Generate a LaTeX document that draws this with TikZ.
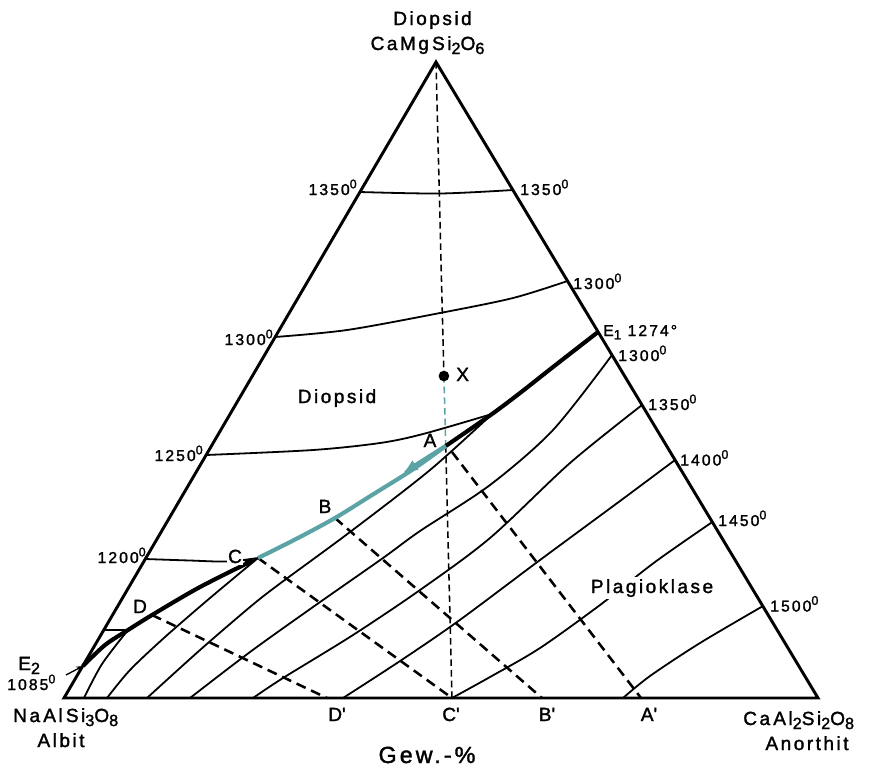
\documentclass[tikz,border=0pt]{standalone}
\usepackage{fontspec}
\setmainfont{Liberation Sans}[LetterSpace=13, FakeBold=1.6]
\usetikzlibrary{arrows.meta}
\definecolor{tealc}{RGB}{92,163,166}
\newcommand\lsub[1]{\raisebox{-0.4ex}{\scalebox{0.85}{#1}}}
\newcommand\supz{\raisebox{0.8ex}{\scalebox{0.8}{0}}}
\begin{document}
\begin{tikzpicture}[x=0.75pt,y=-0.75pt,
  edge/.style={line width=2.2pt, line join=miter},
  iso/.style={line width=1.35pt},
  cot/.style={line width=3.1pt},
  tie/.style={line width=1.9pt, dash pattern=on 7.5pt off 4.5pt},
  vert/.style={line width=1.15pt, dash pattern=on 5pt off 3pt},
  tealline/.style={line width=3.1pt, draw=tealc},
  small/.style={font=\fontsize{11.8}{13}\selectfont, inner sep=0pt},
  big/.style={font=\fontsize{14.3}{16}\selectfont, inner sep=0pt},
  huge/.style={font=\fontsize{17.5}{20}\selectfont, inner sep=0pt},
]
\useasboundingbox (0,0) rectangle (887,769);
% main points
\coordinate (T) at (436,62);
\coordinate (L) at (64,698);
\coordinate (R) at (818,698);
\coordinate (Cq) at (452,698);
\coordinate (Dq) at (327,698);
\coordinate (Bq) at (542,698);
\coordinate (Aq) at (641,698);
\coordinate (X) at (443.9,376);
\coordinate (A) at (445.7,446);
\coordinate (Am) at (403,473);
\coordinate (At) at (452,452);
\coordinate (J) at (492,414);
\coordinate (E1) at (598,332);
\coordinate (B) at (335,518);
\coordinate (C) at (258,558);
\coordinate (D) at (152,615);
\coordinate (K) at (128,630);
\coordinate (L1150) at (104,630);
\coordinate (E2) at (83,666);
\coordinate (E2t) at (66,675);

% triangle
\draw[edge] (T) -- (L) -- (R) -- cycle;

% isotherms, diopside field
\draw[iso] plot[smooth] coordinates {(360,192) (440,193.5) (513,190)};
\draw[iso] plot[smooth] coordinates {(275,337) (347,330) (440,313) (513,298) (567.5,281)};
\draw[iso] plot[smooth] coordinates {(206,455) (313,450) (380,443) (423,434) (492,414)};
\draw[iso] plot[smooth] coordinates {(145.5,559) (190,560.5) (227,561.5) (258,558)};
\draw[iso] (L1150) -- (K);

% isotherms, plagioclase field
\draw[iso] plot[smooth] coordinates {(612,355) (553,430) (490,485) (420,531) (383,558) (313,607) (250,652) (190,698)};
\draw[iso] plot[smooth] coordinates {(642,405) (570,463) (490,538) (420,590) (353,635) (283,678) (253,698)};
\draw[iso] plot[smooth] coordinates {(675,460) (620,501) (540,560) (457,622) (397,663) (343,698)};
\draw[iso] plot[smooth] coordinates {(712.3,522) (655,562) (600,605) (540,648) (490,677) (452,698)};
\draw[iso] plot[smooth] coordinates {(763,606) (700,643) (650,676) (623,698)};
\draw[iso] plot[smooth] coordinates {(492,414) (430,470) (350,532) (278,585) (250,607) (200,650) (147,698)};
\draw[iso] plot[smooth] coordinates {(258,558) (210,598) (165,637) (130,670) (107,698)};
\draw[iso] plot[smooth] coordinates {(128,630) (102,664) (84,698)};

% vertical join Di -> C'
\draw[vert] (T) -- (X);
\draw[vert, draw=tealc] (X) -- (A);
\draw[vert] (A) -- (Cq);

% tie lines
\draw[tie] (At) -- (Aq);
\draw[tie] (B) -- (Bq);
\draw[tie] (C) -- (Cq);
\draw[tie] (D) -- (Dq);

% cotectic
\draw[cot] plot[smooth] coordinates {(598,332) (553,367) (520,393) (492,414) (445.7,446)};
\draw[cot, -{Latex[length=10pt,width=6.5pt]}] plot[smooth] coordinates {(83,666) (105,645) (128,630) (152,615) (200,587) (258,558)};

% crystallisation path
\draw[tealline] plot[smooth] coordinates {(445.7,446) (412,470) (372,495) (335,518) (296,539) (258,558)};
\draw[tealline, -{Latex[length=11pt,width=9pt]}] (A) -- (Am);

% E2 pointer
\draw[line width=1pt, -{Stealth[length=5pt,width=4pt]}] (E2t) -- (E2);

% point X
\node[circle, fill, inner sep=0pt, minimum size=8pt] (Xdot) at (X) {};

% labels
\node[big, anchor=base] (tDi) at (432.5,25) {Diopsid};
\node[big, anchor=base] (tDiF) at (427.5,50) {CaMg\,Si\lsub{2}O\lsub{6}};
\node[small, anchor=base east] (l1350a) at (357,195) {1350\supz};
\node[small, anchor=base west] (l1350b) at (520,195) {1350\supz};
\node[small, anchor=base west] (l1300a) at (573,289) {1300\supz};
\node[small, anchor=base east] (l1300b) at (273,345) {1300\supz};
\node[small, anchor=base east] (l1250) at (203,461) {1250\supz};
\node[small, anchor=base east] (l1200) at (146,563) {1200\supz};
\node[small, anchor=base west] (lE1) at (603,336) {E\lsub{1} 1274°};
\node[small, anchor=base west] (l1300c) at (618,361) {1300\supz};
\node[small, anchor=base west] (l1350c) at (648,410) {1350\supz};
\node[small, anchor=base west] (l1400) at (680,465.5) {1400\supz};
\node[small, anchor=base west] (l1450) at (718,526) {1450\supz};
\node[small, anchor=base west] (l1500) at (770,611.5) {1500\supz};
\node[big, anchor=base] (fDi) at (337,403) {Diopsid};
\node[big, anchor=base west] (lX) at (456,381) {X};
\node[big, anchor=base] (lA) at (430,447) {A};
\node[big, anchor=base] (lB) at (325,513) {B};
\node[big, anchor=base, fill=white, inner sep=1pt] (lC) at (235,563) {C};
\node[big, anchor=base] (lD) at (140,613) {D};
\node[big, anchor=base west] (lE2) at (18,670) {E\lsub{2}};
\node[small, anchor=base west] (l1085) at (7,690) {1085\supz};
\node[big, anchor=base west] (lAb) at (13,722) {Na\,Al\,Si\lsub{3}O\lsub{8}};
\node[big, anchor=base] (lAbn) at (61,747) {Albit};
\node[big, anchor=base west] (lAn) at (743,725) {Ca\,Al\lsub{2}Si\lsub{2}O\lsub{8}};
\node[big, anchor=base] (lAnn) at (807,750) {Anorthit};
\node[big, anchor=base] (lDq) at (337,721) {D\textquotesingle};
\node[big, anchor=base] (lCq) at (451,721) {C\textquotesingle};
\node[big, anchor=base] (lBq) at (547,721) {B\textquotesingle};
\node[big, anchor=base] (lAq) at (649,721) {A\textquotesingle};
\node[huge, anchor=base] (lGew) at (427,763) {Gew.-\%};
\node[big, anchor=base, fill=white, inner sep=1.5pt] (lPl) at (652,593) {Plagioklase};
\end{tikzpicture}
\end{document}
